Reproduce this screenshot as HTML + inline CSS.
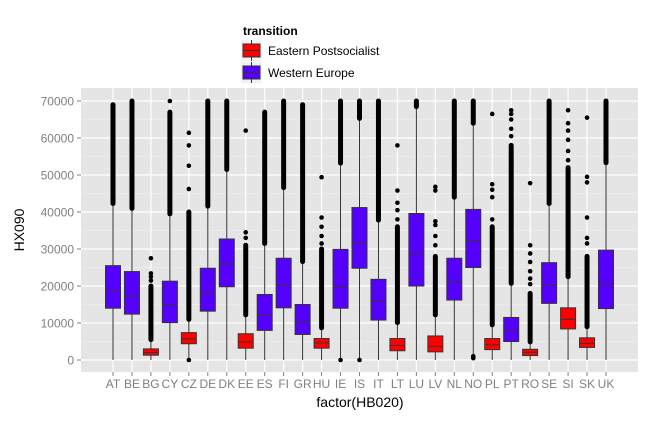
<!DOCTYPE html>
<html><head><meta charset="utf-8"><style>
body{margin:0;background:#fff;font-family:"Liberation Sans",sans-serif}
svg text{font-family:"Liberation Sans",sans-serif}
</style></head><body>
<svg id="chart" width="656" height="422" xmlns="http://www.w3.org/2000/svg">
<rect x="81" y="88" width="557" height="284" fill="#e5e5e5"/>
<g id="grid"></g><g id="marks"></g><g id="axes"></g>
<text x="243" y="35" font-size="12" font-weight="bold" fill="#000">transition</text>
<g>
<rect x="241" y="40" width="21" height="21" fill="#f2f2f2"/>
<line x1="251.5" y1="40" x2="251.5" y2="61" stroke="#333"/>
<rect x="243" y="44" width="17" height="13" fill="#ff0000" stroke="#333"/>
<line x1="243" y1="50.5" x2="260" y2="50.5" stroke="#333"/>
<text x="268" y="55" font-size="12" fill="#000">Eastern Postsocialist</text></g>
<g>
<rect x="241" y="62" width="21" height="21" fill="#f2f2f2"/>
<line x1="251.5" y1="62" x2="251.5" y2="83" stroke="#333"/>
<rect x="243" y="66" width="17" height="13" fill="#5500ff" stroke="#333"/>
<line x1="243" y1="72.5" x2="260" y2="72.5" stroke="#333"/>
<text x="268" y="77" font-size="12" fill="#000">Western Europe</text></g>
<text x="360" y="407" font-size="14" text-anchor="middle" fill="#000">factor(HB020)</text>
<text transform="translate(24,230) rotate(-90)" font-size="14" text-anchor="middle" fill="#000">HX090</text>
</svg>
<script>
const categories=["AT","BE","BG","CY","CZ","DE","DK","EE","ES","FI","GR","HU","IE","IS","IT","LT","LU","LV","NL","NO","PL","PT","RO","SE","SI","SK","UK"];
const groups=["W","W","E","W","E","W","W","E","W","W","W","E","W","W","W","E","W","E","W","W","E","W","E","W","E","E","W"];
const q1=[14000,12400,1300,10100,4400,13200,19800,3200,8000,14100,6900,3200,14000,24800,10800,2500,20000,2200,16200,25000,2800,5000,1200,15300,8400,3400,13900];
const medians=[18800,17300,2000,15000,5700,18300,26000,4900,12200,20400,10300,4600,19700,31800,15800,3900,28700,3700,21100,32300,4100,7700,2100,20400,11000,4500,20500];
const q3=[25500,23900,3000,21300,7400,24800,32700,7100,17700,27500,15000,5800,29900,41200,21800,5800,39600,6500,27500,40700,5800,11500,2900,26300,14100,6000,29700];
const whiskerLow=[0,0,0,0,0,0,0,0,0,0,0,0,0,200,0,0,0,0,0,1500,0,0,0,0,0,0,0];
const whiskerHigh=[42300,40700,5400,39200,11000,41600,51500,12200,31500,46600,26600,8700,53200,65300,37800,10100,69000,12200,44000,64000,9500,20700,4900,42300,22500,9000,53300];
const denseLo=[42300,41000,5500,39500,11000,41600,51500,12200,31500,46600,26600,8700,53200,65300,37800,10100,68500,12200,44000,64000,9500,20700,4900,42300,22500,9000,53300];
const denseHi=[69000,70000,20000,67000,40000,70000,70000,31000,67000,70000,69000,30000,70000,70000,70000,36000,70000,28000,70000,70000,36000,58000,18000,70000,52000,28000,70000];
const sparse=[[],[],[21500,22500,23400,27500],[70000],[0,46200,52500,58000,61400],[],[],[33000,34500,62000],[],[],[],[31500,33500,36000,38500,49400],[0],[0],[],[38000,40500,42500,45800,58000],[],[31000,33500,36500,37500,45800,46800],[],[500,1000],[38000,44000,46000,47500,66500],[60500,62500,65000,66500,67500],[20500,22000,24000,26500,28800,31000,47800],[],[54000,56500,59500,62000,64000,67500],[31500,33000,38500,48000,49500,65500],[]];
const yTicks=[0,10000,20000,30000,40000,50000,60000,70000];
const yTickLabels=["0","10000","20000","30000","40000","50000","60000","70000"];
</script>
<script>
const NS="http://www.w3.org/2000/svg";
const n=categories.length;
const X0=81,X1=638,Y0=88,Y1=372;
const pad=32;
const step=(X1-X0-2*pad)/(n-1);
function xs(i){return X0+pad+step*i;}
function ys(v){return 360-v*259/70000;}
function mk(tag,attrs,parent){const e=document.createElementNS(NS,tag);for(const k in attrs)e.setAttribute(k,attrs[k]);parent.appendChild(e);return e;}
const grid=document.getElementById('grid'),marks=document.getElementById('marks'),axes=document.getElementById('axes');
for(let i=0;i<yTicks.length;i++){
  const v=yTicks[i];
  const m=v+5000;
  if(ys(m)>Y0){const l=mk('line',{x1:X0,x2:X1,y1:ys(m),y2:ys(m),stroke:'#f2f2f2','stroke-width':0.6},grid);}
  const g=mk('line',{x1:X0,x2:X1,y1:ys(v),y2:ys(v),stroke:'#fff','stroke-width':1.2},grid);
  
  
  const t=mk('line',{x1:77,x2:81,y1:ys(v),y2:ys(v),stroke:'#7f7f7f'},axes);
  
  
  const tx=mk('text',{x:74,y:ys(v)+4.5,'font-size':12,'text-anchor':'end',fill:'#7f7f7f'},axes);
  tx.textContent=yTickLabels[i];
  
  
}
for(let i=0;i<n;i++){
  const x=xs(i);
  const g=mk('line',{x1:x,x2:x,y1:Y0,y2:Y1,stroke:'#fff','stroke-width':1.2},grid);
  
  
  const t=mk('line',{x1:x,x2:x,y1:Y1,y2:Y1+4,stroke:'#7f7f7f'},axes);
  
  
  const tx=mk('text',{x:x,y:388,'font-size':12,'text-anchor':'middle',fill:'#7f7f7f'},axes);
  tx.textContent=categories[i];
  
  
  const grp=mk('g',{},marks);
  
  
  mk('line',{x1:x,x2:x,y1:ys(whiskerLow[i]),y2:ys(whiskerHigh[i]),stroke:'#333','stroke-width':1},grp);
  const w=15;
  mk('rect',{x:x-w/2,y:ys(q3[i]),width:w,height:ys(q1[i])-ys(q3[i]),fill:groups[i]==='E'?'#ff0000':'#5500ff',stroke:'#333','stroke-width':1},grp);
  mk('line',{x1:x-w/2,x2:x+w/2,y1:ys(medians[i]),y2:ys(medians[i]),stroke:'#333','stroke-width':1},grp);
  if(denseHi[i]>denseLo[i]){
    const d=mk('rect',{x:x-2.5,y:ys(denseHi[i])-2.5,width:5,height:ys(denseLo[i])-ys(denseHi[i])+5,rx:2.5,fill:'#000'},grp);
    
    
  }
  for(const v of sparse[i]){
    const c=mk('circle',{cx:x,cy:ys(v),r:2.3,fill:'#000'},grp);
    
    
  }
}
</script>
</body></html>
